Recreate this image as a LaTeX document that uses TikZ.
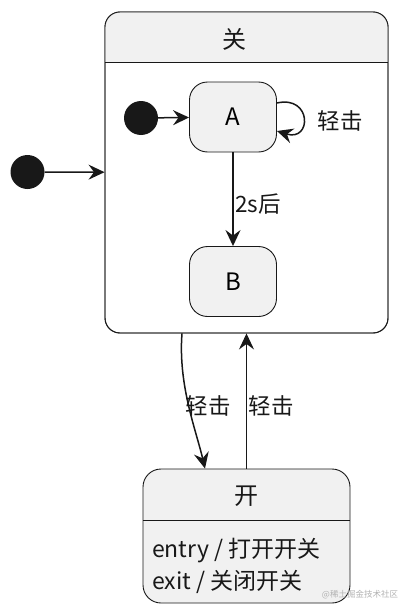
\documentclass[tikz,border=0pt]{standalone}
\usepackage{fontspec}
\setmainfont{Noto Sans CJK SC}
\usetikzlibrary{arrows.meta}
\definecolor{fillg}{HTML}{F1F1F1}
\definecolor{ink}{HTML}{181818}
\tikzset{
  statebox/.style={draw=ink, fill=fillg, line width=0.9pt, rounded corners=18pt,
    minimum width=87pt, minimum height=70pt, inner sep=0pt, font=\fontsize{24}{28}\selectfont},
  initdot/.style={circle, fill=ink, minimum size=34pt, inner sep=0pt},
  arr/.style={draw=ink, line width=1.5pt, -{Stealth[length=16pt, width=15pt, inset=5.5pt]}},
  lbl/.style={font=\fontsize{22.5}{26}\selectfont, text=ink, inner sep=0pt},
}
\begin{document}
\begin{tikzpicture}[x=1pt, y=-1pt]
\useasboundingbox (0,0) rectangle (411,613);
% composite state 关
\node[draw=ink, line width=0.9pt, rounded corners=15pt, minimum width=283pt, minimum height=321pt, inner sep=0pt] (off) at (246.5,172.5) {};
\begin{scope}
  \clip[rounded corners=15pt] (105,12) rectangle (388,333);
  \fill[fillg] (105,12) rectangle (388,62);
\end{scope}
\draw[ink, line width=0.9pt, rounded corners=15pt] (105,12) rectangle (388,333);
\draw[ink, line width=0.9pt] (105,62) -- (388,62);
\node[font=\fontsize{24}{28}\selectfont, text=ink] (offt) at (234,39) {关};
% inner states
\node[statebox] (A) at (233,117) {A};
\node[statebox] (B) at (233,281.5) {B};
\node[initdot] (i2) at (141,118) {};
\node[initdot] (i1) at (27.5,172) {};
% state 开
\node[draw=ink, fill=fillg, line width=0.9pt, rounded corners=18pt, minimum width=207pt, minimum height=134pt, inner sep=0pt] (on) at (246.5,536) {};
\draw[ink, line width=0.9pt] (143,520) -- (350,520);
\node[font=\fontsize{24}{28}\selectfont, text=ink] (ont) at (246.5,496) {开};
\node[lbl, anchor=base west, font=\fontsize{23}{27}\selectfont] (en) at (152,557) {entry / 打开开关};
\node[lbl, anchor=base west, font=\fontsize{23}{27}\selectfont] (ex) at (152,589) {exit / 关闭开关};
% connectors
\draw[arr] (i1) -- (off);
\draw[arr] (i2) -- (A);
\draw[arr] ([yshift=14pt]A.east) .. controls (312,95) and (312,142) .. ([yshift=-14pt]A.east);
\node[lbl] (l1) at (340,121) {轻击};
\draw[arr] (A) -- (B);
\node[lbl] (l2) at (258,204) {2s后};
\draw[arr] ([xshift=-64.5pt]off.south) .. controls (178,385) and (196,430) .. ([xshift=-41.5pt]on.north);
\node[lbl] (l3) at (208,406) {轻击};
\draw[arr] (on.north) -- (off.south);
\node[lbl] (l4) at (271,406) {轻击};
% watermark
\node[font=\fontsize{8.5}{10}\selectfont, text=gray!60, inner sep=0pt] (wm) at (360,595) {@稀土掘金技术社区};
\end{tikzpicture}
\end{document}
